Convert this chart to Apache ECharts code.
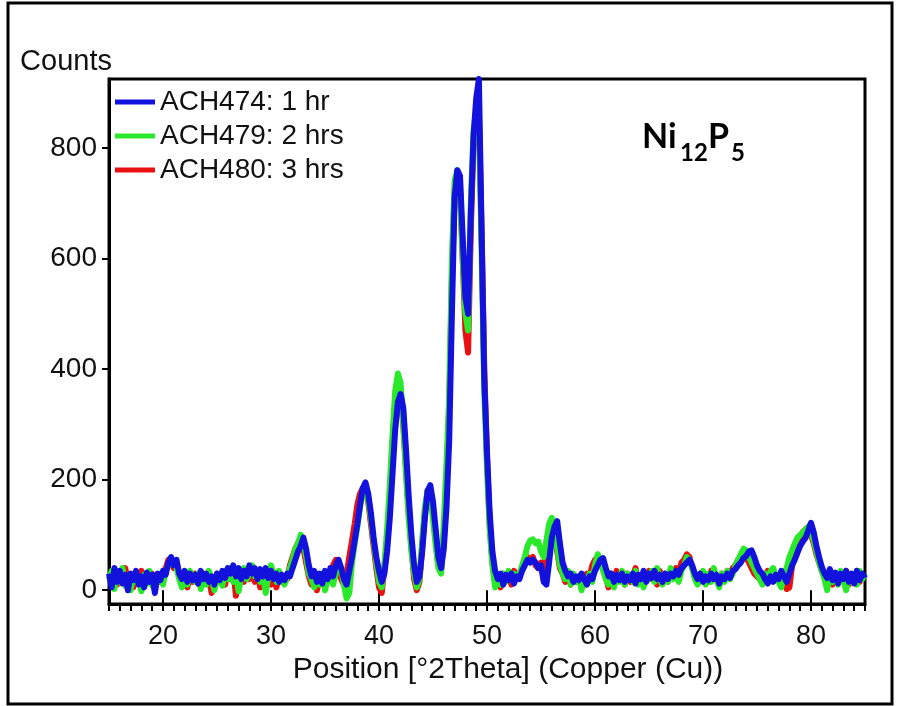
<!DOCTYPE html>
<html><head><meta charset="utf-8">
<script src="https://cdn.jsdelivr.net/npm/echarts@6/dist/echarts.min.js"></script>
<style>html,body{margin:0;padding:0;background:#fff}#c{width:899px;height:706px}</style>
</head><body><div id="c"></div>
<script>
// scan grid (°2Theta)
const angleStart = 15, angleStep = 0.25;
const seriesNames = ['ACH474: 1 hr', 'ACH479: 2 hrs', 'ACH480: 3 hrs'];
// ACH474: 1 hr (blue)
const ach474 = [
  30,5,40,15,35,12,28,0,30,18,35,10,25,5,32,15,28,-5,30,18,35,
  28,50,60,45,55,30,20,35,15,30,18,28,12,35,20,30,15,25,10,30,
  18,35,22,40,30,45,25,40,20,35,25,45,30,40,20,38,25,40,22,35,
  20,30,15,28,18,30,25,40,55,70,80,95,75,45,25,35,15,30,12,35,
  20,40,25,45,55,40,20,10,35,60,90,120,155,185,195,175,140,95,60,35,
  15,30,70,130,210,290,340,355,330,255,170,100,45,15,25,70,130,180,190,160,
  110,60,40,75,150,270,500,710,760,750,640,530,500,680,820,890,925,650,380,250,
  140,70,35,20,30,10,28,18,30,12,25,20,35,45,55,50,55,50,40,45,
  15,10,50,95,115,125,85,50,35,25,30,15,25,18,30,20,10,25,20,35,
  45,55,58,40,25,30,15,28,18,30,15,25,18,30,12,28,20,35,15,30,
  22,35,20,28,15,30,20,30,25,35,28,40,45,50,55,45,30,20,30,15,
  25,18,30,20,28,12,25,20,30,22,35,38,45,50,58,62,70,72,60,45,
  35,30,20,12,25,15,28,20,35,25,15,30,45,55,68,80,88,95,108,122,
  105,80,60,42,30,22,38,18,32,12,30,20,35,15,30,12,35,18,30,22
];
// ACH479: 2 hrs (green)
const ach479 = [
  20,35,2,30,15,40,8,25,0,30,15,22,-2,28,12,35,8,25,15,30,10,
  35,45,55,50,40,20,5,25,10,35,20,15,30,2,25,10,35,20,0,20,
  30,8,35,20,40,15,30,-2,25,40,20,30,45,25,35,15,30,-5,25,45,
  30,15,35,20,10,25,40,55,75,85,100,90,60,30,20,5,25,10,30,0,
  20,35,10,30,50,40,10,-15,-5,50,85,115,150,175,180,165,130,90,50,15,
  5,45,110,190,280,360,392,375,300,210,130,70,30,5,20,90,150,180,170,130,
  80,40,30,120,230,350,600,740,760,720,600,500,470,700,830,870,850,620,360,220,
  110,45,5,25,10,30,15,35,20,30,25,30,45,60,80,90,92,85,88,70,
  60,90,120,131,115,75,45,30,20,35,10,30,15,25,0,20,10,30,15,45,
  65,55,35,20,10,30,5,25,15,35,10,30,20,15,35,10,25,5,30,20,
  35,15,40,20,10,30,15,40,20,30,15,35,45,60,55,40,20,10,25,35,
  10,30,15,40,20,5,30,15,35,20,30,45,55,65,75,72,60,50,40,30,
  20,10,30,15,35,40,25,15,5,30,40,60,72,85,95,100,105,110,115,105,
  90,70,50,35,20,0,30,15,25,10,35,20,0,25,15,30,10,35,20,30
];
// ACH480: 3 hrs (red)
const ach480 = [
  25,15,35,10,30,20,40,15,25,5,30,20,35,10,25,15,30,0,25,15,30,
  40,55,50,40,45,25,15,30,5,25,15,30,20,10,30,15,25,-5,20,30,
  15,30,10,35,20,40,-10,25,35,15,30,20,40,15,30,5,35,20,30,10,
  25,5,30,15,25,20,45,60,75,85,90,75,50,25,10,30,0,20,15,30,
  25,30,45,55,40,20,10,30,60,90,120,155,175,185,185,160,120,80,40,5,
  -5,40,90,170,260,330,360,350,300,220,140,80,20,0,15,80,140,180,180,140,
  90,45,35,100,200,330,560,720,755,730,600,470,430,650,810,865,860,650,400,240,
  120,50,15,25,5,30,20,30,10,35,25,30,40,50,60,55,60,45,40,50,
  20,80,110,120,100,70,40,30,15,30,10,25,15,25,5,20,30,25,45,55,
  60,55,40,25,5,30,10,35,20,25,10,30,15,25,40,15,20,10,25,35,
  20,30,10,35,20,25,15,35,25,40,30,50,55,65,60,40,25,15,30,20,
  25,15,35,20,25,10,30,20,35,25,40,45,55,60,65,60,50,40,30,25,
  20,30,15,35,25,30,20,25,15,25,2,5,45,70,88,95,105,110,115,100,
  85,65,50,35,25,15,35,10,30,20,30,15,35,10,25,20,35,15,25,20
];
const xTickValues = [20,30,40,50,60,70,80];
const yTickValues = [0,200,400,600,800];
const colors = ['#1212dc', '#2ae82a', '#e81010'];

function pairs(vals){ return vals.map((v,i)=>[angleStart + i*angleStep, v]); }

const chart = echarts.init(document.getElementById('c'), null, {renderer:'canvas'});
const FONT = 'Liberation Sans, Arial, sans-serif';
const data = [ach474, ach479, ach480];
const order = [2,1,0]; // draw red, green, blue (blue on top)
chart.setOption({
  animation: false,
  backgroundColor: '#fff',
  grid: {left:109, right:34, top:79, bottom:102, show:true, borderColor:'#000', borderWidth:3, backgroundColor:'transparent'},
  legend: {
    data: seriesNames, orient:'vertical', left:110, top:82, icon:'rect',
    itemWidth:40, itemHeight:5, itemGap:4,
    textStyle:{fontFamily:FONT, fontSize:28, color:'#111', lineHeight:30}
  },
  xAxis: [
    {type:'value', min:15, max:85, interval:1, position:'bottom',
     axisLine:{show:true, onZero:false, lineStyle:{color:'#000', width:3}},
     axisTick:{show:true, inside:false, length:7, lineStyle:{color:'#000', width:2}},
     axisLabel:{show:false}, splitLine:{show:false}},
    {type:'value', min:15, max:85, position:'bottom',
     axisLine:{show:false},
     axisTick:{show:true, customValues:xTickValues, length:14, lineStyle:{color:'#000', width:2}},
     axisLabel:{show:true, customValues:xTickValues, fontFamily:FONT, fontSize:27, color:'#111', margin:19},
     splitLine:{show:false},
     name:'Position [°2Theta] (Copper (Cu))', nameLocation:'middle', nameGap:46,
     nameTextStyle:{fontFamily:FONT, fontSize:30, color:'#111', padding:[0,0,0,42]}}
  ],
  yAxis: {type:'value', min:-25, max:925,
    axisLine:{show:true, onZero:false, lineStyle:{color:'#000', width:3}},
    axisTick:{show:true, customValues:yTickValues, length:7, lineStyle:{color:'#000', width:2}},
    axisLabel:{show:true, customValues:yTickValues, fontFamily:FONT, fontSize:28, color:'#111', margin:12},
    splitLine:{show:false},
    name:'Counts', nameLocation:'end', nameGap:3,
    nameTextStyle:{fontFamily:FONT, fontSize:29, color:'#111', align:'right', padding:[0,-3,0,0]}},
  series: order.map(k => ({
    name: seriesNames[k], type:'line', xAxisIndex:0, data: pairs(data[k]),
    color: colors[k], showSymbol:false, symbol:'none', z: 3 + (2-k),
    lineStyle:{width:6, color:colors[k], join:'round'}
  })),
  graphic: [
    {type:'rect', shape:{x:8, y:3, width:884, height:701}, style:{fill:'none', stroke:'#000', lineWidth:3}, silent:true},
    {type:'text', left:642, top:120, style:{text:'Ni', font:'bold 34px Lato', fill:'#000'}},
    {type:'text', left:680, top:141, style:{text:'12', font:'bold 24px Lato', fill:'#000'}},
    {type:'text', left:708, top:120, style:{text:'P', font:'bold 34px Lato', fill:'#000'}},
    {type:'text', left:731, top:141, style:{text:'5', font:'bold 24px Lato', fill:'#000'}}
  ]
});
</script></body></html>
